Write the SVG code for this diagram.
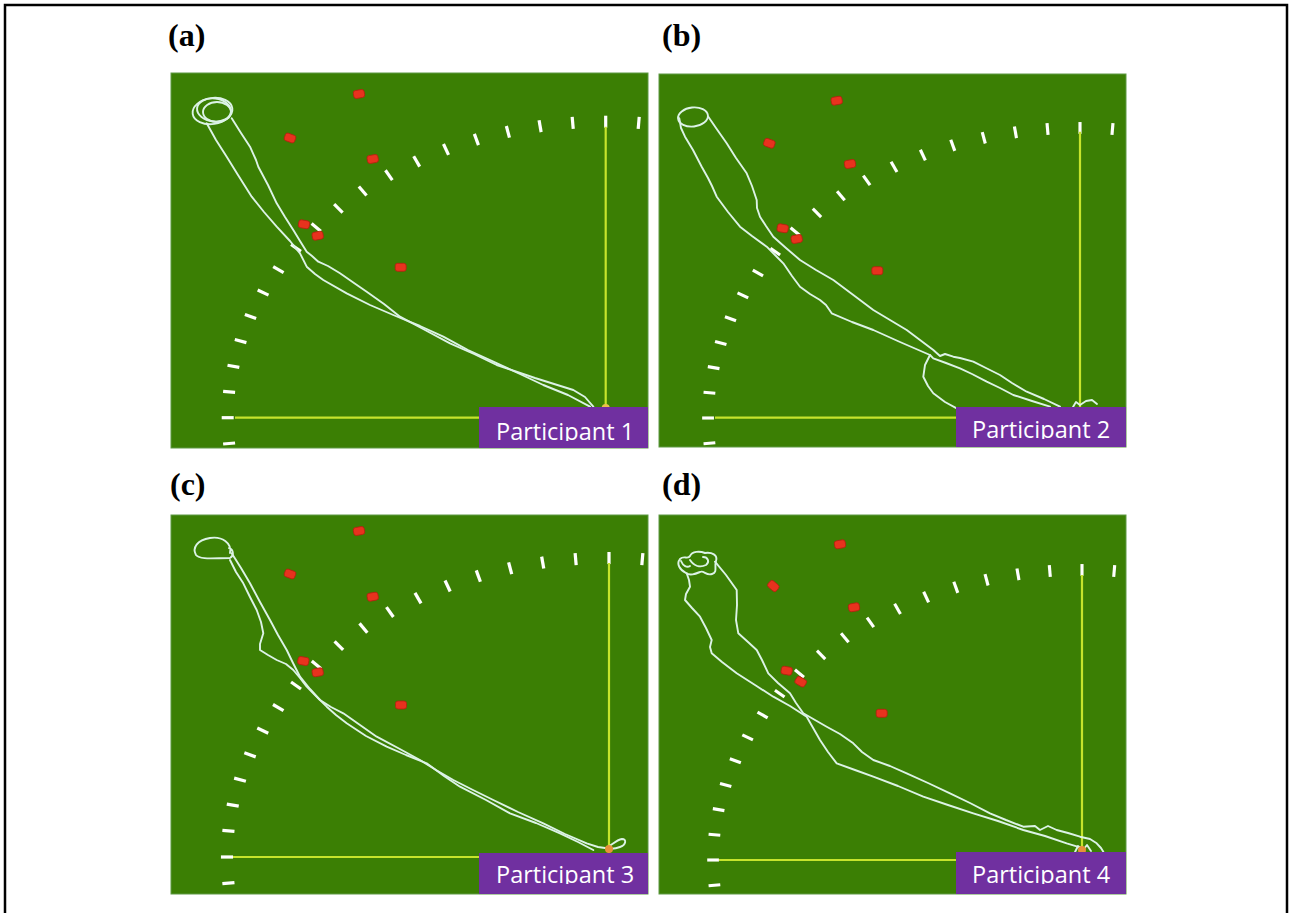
<svg xmlns="http://www.w3.org/2000/svg" xmlns:xlink="http://www.w3.org/1999/xlink" width="1291" height="913" viewBox="0 0 1291 913">
<style>
.field{fill:#3b7f04;stroke:#5f9a45;stroke-width:1}
.axis{stroke:#c6e42c;stroke-width:2.2;fill:none}
.trk{fill:none;stroke:#dcf3e6;stroke-width:1.9;stroke-linejoin:round;stroke-linecap:round}
.tag{fill:#7030a0}
.tagtxt{font-family:"Open Sans","Liberation Sans",sans-serif;font-size:23.5px;fill:#ffffff}
.lbl{font-family:"Liberation Serif","Times New Roman",serif;font-weight:bold;font-size:32px;fill:#000000}
.tick{stroke:#ffffff;stroke-width:3.2;stroke-linecap:butt}
</style>
<defs>
<line id="tk" class="tick" x1="-6" y1="0" x2="6" y2="0"/>
<rect id="dot" x="-5.5" y="-4" width="11" height="8" rx="2.5" fill="#e8321e" stroke="#b5200f" stroke-width="0.8"/>
<g id="ticks">
<use xlink:href="#tk" transform="translate(-376.6,25.8) rotate(-5)"/>
<use xlink:href="#tk" transform="translate(-378,0) rotate(0)"/>
<use xlink:href="#tk" transform="translate(-376.6,-25.8) rotate(5)"/>
<use xlink:href="#tk" transform="translate(-372.3,-51.4) rotate(10)"/>
<use xlink:href="#tk" transform="translate(-365.1,-76.6) rotate(15)"/>
<use xlink:href="#tk" transform="translate(-355.2,-101.2) rotate(20)"/>
<use xlink:href="#tk" transform="translate(-342.6,-125.1) rotate(25)"/>
<use xlink:href="#tk" transform="translate(-327.3,-148) rotate(30)"/>
<use xlink:href="#tk" transform="translate(-309.7,-169.8) rotate(35)"/>
<use xlink:href="#tk" transform="translate(-289.5,-190.3) rotate(40)"/>
<use xlink:href="#tk" transform="translate(-267.3,-209.3) rotate(45)"/>
<use xlink:href="#tk" transform="translate(-243,-226.7) rotate(50)"/>
<use xlink:href="#tk" transform="translate(-216.8,-242.5) rotate(55)"/>
<use xlink:href="#tk" transform="translate(-189,-256.3) rotate(60)"/>
<use xlink:href="#tk" transform="translate(-159.7,-268.3) rotate(65)"/>
<use xlink:href="#tk" transform="translate(-129.3,-278.2) rotate(70)"/>
<use xlink:href="#tk" transform="translate(-97.8,-285.9) rotate(75)"/>
<use xlink:href="#tk" transform="translate(-65.6,-291.5) rotate(80)"/>
<use xlink:href="#tk" transform="translate(-33,-294.9) rotate(85)"/>
<use xlink:href="#tk" transform="translate(0,-296) rotate(90)"/>
<use xlink:href="#tk" transform="translate(33,-294.9) rotate(95)"/>
</g>
<clipPath id="ca"><rect x="479" y="407" width="169" height="34"/></clipPath>
<clipPath id="cb"><rect x="956" y="407" width="170" height="32"/></clipPath>
<clipPath id="cc"><rect x="479" y="853" width="169" height="31"/></clipPath>
<clipPath id="cd"><rect x="956" y="852" width="170" height="32"/></clipPath>
</defs>
<rect x="0" y="0" width="1291" height="913" fill="#ffffff"/>
<path d="M5,913 V5 H1287 V913" fill="none" stroke="#000000" stroke-width="2.5"/>

<g id="labels">
<text class="lbl" x="168" y="46">(a)</text>
<text class="lbl" x="662" y="46">(b)</text>
<text class="lbl" x="170" y="495">(c)</text>
<text class="lbl" x="662" y="495">(d)</text>
</g>

<g id="panel-a">
<rect class="field" x="171" y="73" width="477" height="375"/>
<use xlink:href="#ticks" transform="translate(605.7,417.7)"/>
<line class="axis" x1="605.7" y1="126.7" x2="605.7" y2="408"/>
<line class="axis" x1="235" y1="417.7" x2="479" y2="417.7"/>
<use xlink:href="#dot" transform="translate(359,94) rotate(-10)"/>
<use xlink:href="#dot" transform="translate(290,138) rotate(20)"/>
<use xlink:href="#dot" transform="translate(372.7,159) rotate(-10)"/>
<use xlink:href="#dot" transform="translate(304,224.3) rotate(10)"/>
<use xlink:href="#dot" transform="translate(317.7,235.7) rotate(-10)"/>
<use xlink:href="#dot" transform="translate(400.7,267.3)"/>
<g class="trk">
<ellipse cx="212.5" cy="111" rx="20" ry="13" transform="rotate(-8 212.5 111)"/>
<ellipse cx="217" cy="112" rx="14" ry="10"/>
<ellipse cx="214" cy="110" rx="17" ry="11.5" transform="rotate(6 214 110)"/>
<path d="M206.7,123.3 L216,140 L226.7,156.7 L238,175 L251.7,196.7 L264,212 L276.7,226.7 L290,241 L300,253.3 L306.7,266.7 L315,274 L323.3,280 L346.7,293.3 L370,305 L393.3,315 L420,326 L443.3,336.7 L468,350 L493.3,361.7 L520,374 L543.3,385 L568,395 L590,406.7"/>
<path d="M231.7,118.3 L241,133 L250,146.7 L256,160 L258.3,166.7 L268,185 L276.7,203.3 L285,217 L293.3,230 L300,241 L306.7,251.7 L312,256 L318.3,261.7 L328,266 L340,273.3 L354,283 L366.7,291.7 L384,304 L400,316.7 L425,330 L450,343.3 L474,354 L496.7,365 L535,378 L573.3,390 L585,397 L593.3,406.7"/>
</g>
<circle cx="605.7" cy="408" r="4" fill="#e8c24a"/>
<rect class="tag" x="479" y="407" width="169" height="41"/>
<text class="tagtxt" x="496" y="440" clip-path="url(#ca)">Participant 1</text>
</g>

<g id="panel-b">
<rect class="field" x="659" y="74" width="467" height="373"/>
<use xlink:href="#ticks" transform="translate(1080,418) scale(0.984,0.98)"/>
<line class="axis" x1="1080" y1="131.7" x2="1080" y2="407"/>
<line class="axis" x1="715" y1="417.7" x2="956" y2="417.7"/>
<use xlink:href="#dot" transform="translate(836.7,100.7) rotate(-10)"/>
<use xlink:href="#dot" transform="translate(769.3,143.3) rotate(20)"/>
<use xlink:href="#dot" transform="translate(850,164) rotate(-10)"/>
<use xlink:href="#dot" transform="translate(782.7,228.3) rotate(10)"/>
<use xlink:href="#dot" transform="translate(796.7,239) rotate(-10)"/>
<use xlink:href="#dot" transform="translate(877.3,270.7)"/>
<g class="trk">
<ellipse cx="693" cy="117" rx="15" ry="9.5" transform="rotate(-6 693 117)"/>
<path d="M679.3,118.3 L681,128 L685,136.7 L693,150 L701.7,166.7 L708,178 L712,186 L716.7,196.7 L728,212 L740,226.7 L752,236 L766.7,246.7 L776,256 L783.3,263.3 L792,276 L800,286.7 L810,294 L820,300 L826,305 L831.7,313.3 L852,322 L873.3,330 L900,342 L930,355 L925,365 L923.3,376.7 L928,386 L933.3,393.3 L945,402 L956.7,408.3"/>
<path d="M708.3,116.7 L716,128 L726.7,143.3 L736,158 L746.7,173.3 L752,186 L756.7,200 L757,208 L760,216.7 L766,226 L773.3,236.7 L786,248 L800,260 L816,270 L833.3,280 L852,294 L873.3,310 L890,320 L906.7,330 L920,340 L933.3,350 L940,356 L945,354 L953.3,356.7 L960,358 L973.3,361.7 L986,368 L1000,375 L1012,383 L1026.7,391.7 L1044,399 L1060,406.7"/>
<path d="M930,355 L933.3,358.3 L946,363 L960,368.3 L972,374 L986.7,381.7 L1000,388 L1013.3,395 L1032,401 L1050,406.7"/>
<path d="M1073,407 L1076,402 L1080,405 L1086,401 L1092,400 L1097,404"/>
</g>
<rect class="tag" x="956" y="407" width="170" height="40"/>
<text class="tagtxt" x="972" y="438" clip-path="url(#cb)">Participant 2</text>
</g>

<g id="panel-c">
<rect class="field" x="171" y="515" width="477" height="379"/>
<use xlink:href="#ticks" transform="translate(609,857) scale(1.0106,1.01)"/>
<line class="axis" x1="609" y1="563" x2="609" y2="853"/>
<line class="axis" x1="233" y1="857" x2="479" y2="857"/>
<use xlink:href="#dot" transform="translate(359,531) rotate(-10)"/>
<use xlink:href="#dot" transform="translate(290,574) rotate(20)"/>
<use xlink:href="#dot" transform="translate(372.7,596.7) rotate(-10)"/>
<use xlink:href="#dot" transform="translate(303.3,661) rotate(10)"/>
<use xlink:href="#dot" transform="translate(317.7,672.3) rotate(-10)"/>
<use xlink:href="#dot" transform="translate(401,705)"/>
<g class="trk">
<path d="M230,553 C232,543 222,536 210,538 C197,540 192,548 196,555 C200,560 214,558 230,558 C234,556 234,550 229,548"/>
<path d="M230,560 L236,572 L243.3,583.3 L250,597 L256.7,610 L261,622 L263.3,633.3 L260,644 L260,650 L268,655 L276.7,660 L286,664 L293.3,670 L300,678 L306.7,686.7 L316,696 L326.7,706.7 L336,715 L346.7,723.3 L366,736 L386.7,746.7 L406,755 L426.7,763.3 L444,776 L460,786.7 L486,800 L510,813.3 L536,823 L560,833.3 L578,842 L593.3,850"/>
<path d="M231.7,553.3 L241,568 L250,583.3 L260,602 L270,620 L278,635 L286.7,650 L293,663 L300,676.7 L310,689 L320,700 L331,707 L343.3,713.3 L360,725 L376.7,736.7 L398,748 L420,760 L436,770 L453.3,780 L473,790 L493.3,800 L518,812 L543.3,823.3 L565,834 L586.7,843.3 L598,847 L606.7,848.3"/>
<path d="M606,848 C612,845 616,840 622,839 C627,839 626,845 620,847 C615,849 610,849 606,848"/>
</g>
<circle cx="609" cy="849" r="4" fill="#e8903a"/>
<rect class="tag" x="479" y="853" width="169" height="41"/>
<text class="tagtxt" x="496" y="883" clip-path="url(#cc)">Participant 3</text>
</g>

<g id="panel-d">
<rect class="field" x="659" y="515" width="467" height="379"/>
<use xlink:href="#ticks" transform="translate(1082,860) scale(0.976,0.98)"/>
<line class="axis" x1="1082" y1="575" x2="1082" y2="852"/>
<line class="axis" x1="719" y1="860" x2="956" y2="860"/>
<use xlink:href="#dot" transform="translate(840,544.3) rotate(-10)"/>
<use xlink:href="#dot" transform="translate(773.3,586) rotate(40)"/>
<use xlink:href="#dot" transform="translate(854,607.3) rotate(-10)"/>
<use xlink:href="#dot" transform="translate(786.7,670.7) rotate(10)"/>
<use xlink:href="#dot" transform="translate(800.7,681.7) rotate(30)"/>
<use xlink:href="#dot" transform="translate(881.7,713.3)"/>
<g class="trk">
<path d="M686,573 C680,570 676,564 680,559 C684,555 688,560 690,556 C692,551 700,551 705,553 C712,552 718,555 716,561 C714,567 718,572 712,574 C706,576 704,570 700,572 C695,574 690,576 686,573"/>
<path d="M690,560 C694,566 700,568 706,565 C710,562 708,557 703,557"/>
<path d="M681,561 C683,566 687,568 690,566"/>
<path d="M686.7,573.3 L689,580 L690,586.7 L686,594 L685,600 L692,608 L700,616.7 L706,628 L711.7,640 L710,647 L711.7,653.3 L722,662 L736.7,673.3 L755,685 L773.3,696.7 L790,706 L806.7,716.7 L812,726 L820,740 L828,752 L836.7,763.3 L855,770 L873.3,776.7 L898,786 L923.3,796.7 L948,805 L973.3,813.3 L998,821 L1023.3,830 L1045,836 L1066.7,843.3 L1083.3,848.3"/>
<path d="M715,561.7 L726,575 L736.7,590 L737,605 L736,620 L738.3,633.3 L748,642 L756.7,650 L762,660 L768.3,673.3 L778,683 L790,693.3 L796,703 L803.3,713.3 L815,720 L826.7,726.7 L840,734 L853.3,743.3 L862,752 L873.3,760 L890,766 L906.7,773.3 L928,783 L950,793.3 L970,803 L990,813.3 L1006,820 L1023.3,826.7 L1035,826 L1040,830 L1048,826 L1056.7,830 L1068,833 L1080,836.7 L1090,839 L1096.7,843.3 L1101,848 L1103.3,851.7"/>
<path d="M1075,852 L1078,846 L1083,850 L1087,845 L1091,851"/>
</g>
<circle cx="1082" cy="850" r="4" fill="#e8903a"/>
<rect class="tag" x="956" y="852" width="170" height="42"/>
<text class="tagtxt" x="972" y="883" clip-path="url(#cd)">Participant 4</text>
</g>
</svg>
